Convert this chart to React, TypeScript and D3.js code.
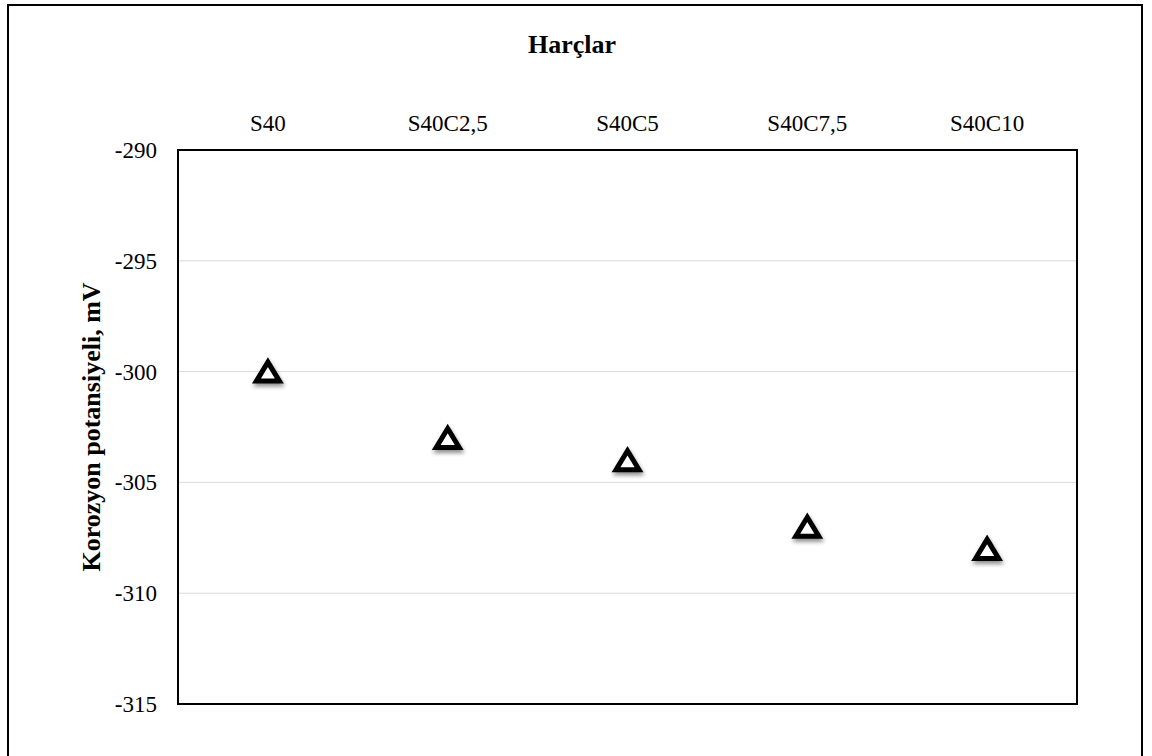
import React from "react";
import * as d3 from "d3";

const categories = ["S40", "S40C2,5", "S40C5", "S40C7,5", "S40C10"];
const values = [-300, -303, -304, -307, -308];
const yTicks = [-290, -295, -300, -305, -310, -315];
const title = "Harçlar";
const yTitle = "Korozyon potansiyeli, mV";

export default function App() {
  const W = 1152, H = 756;
  const left = 178, right = 1077, top = 150, bottom = 704;
  const x = d3.scaleBand<string>().domain(categories).range([left, right]);
  const y = d3.scaleLinear().domain([-315, -290]).range([bottom, top]);
  const fontStyle = { fontFamily: "'Liberation Serif', serif", fontWeight: 400 };
  const boldStyle = { fontFamily: "'Liberation Serif', serif", fontWeight: 700 };
  const tri = (cx: number, cy: number) => {
    const w = 23, h = 19;
    return `M${cx},${cy - h / 2}L${cx + w / 2},${cy + h / 2}L${cx - w / 2},${cy + h / 2}Z`;
  };
  return (
    <svg width={W} height={H} style={{ position: "absolute", left: 0, top: 0 }}>
      <defs>
        <filter id="sh" x="-50%" y="-50%" width="200%" height="200%">
          <feGaussianBlur in="SourceAlpha" stdDeviation="2" />
          <feOffset dx="1" dy="3" result="b" />
          <feComponentTransfer><feFuncA type="linear" slope="0.45" /></feComponentTransfer>
          <feMerge><feMergeNode /><feMergeNode in="SourceGraphic" /></feMerge>
        </filter>
      </defs>
      <rect x={0} y={0} width={W} height={H} fill="#fff" />
      <rect x={8} y={5} width={1134} height={760} fill="#fff" stroke="#000" strokeWidth={2} />
      {yTicks.map((t) => (
        <g key={t}>
          {t !== -290 && t !== -315 && (
            <line x1={left} x2={right} y1={y(t)} y2={y(t)} stroke="#d9d9d9" strokeWidth={1} />
          )}
          <text x={157} y={y(t) + 8} textAnchor="end" style={fontStyle} fontSize={23} fill="#000">
            {t}
          </text>
        </g>
      ))}
      <rect x={left} y={top} width={right - left} height={bottom - top} fill="none" stroke="#000" strokeWidth={2} />
      {categories.map((c) => (
        <text key={c} x={x(c)! + x.bandwidth() / 2} y={131} textAnchor="middle" style={fontStyle} fontSize={23} fill="#000">
          {c}
        </text>
      ))}
      <text x={572} y={53} textAnchor="middle" style={boldStyle} fontSize={26}>
        {title}
      </text>
      <text transform={`translate(100,427) rotate(-90)`} textAnchor="middle" style={boldStyle} fontSize={26}>
        {yTitle}
      </text>
      {values.map((v, i) => (
        <path key={i} d={tri(x(categories[i])! + x.bandwidth() / 2, y(v))} fill="#fff" stroke="#000" strokeWidth={5} strokeLinejoin="miter" filter="url(#sh)" />
      ))}
    </svg>
  );
}
